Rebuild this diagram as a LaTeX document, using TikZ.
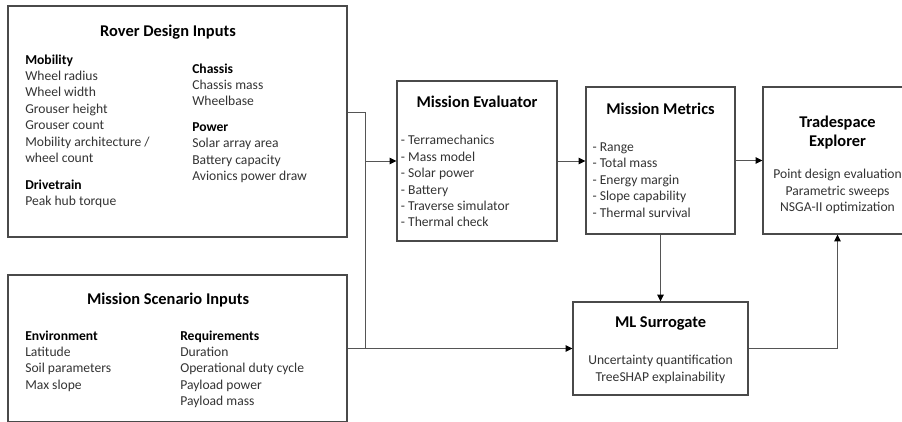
\documentclass[tikz,border=0pt]{standalone}
\usepackage{fontspec}
\setmainfont{Carlito}
\usetikzlibrary{arrows.meta,fit}

\definecolor{framegray}{HTML}{4A4A4A}
\definecolor{wiregray}{HTML}{555555}
\definecolor{textgray}{HTML}{333333}
\newcommand{\grp}[1]{\textcolor{black}{\textbf{#1}}}

\tikzset{
    box/.style={draw=framegray, line width=0.8pt, inner sep=0pt},
    heading/.style={font=\fontsize{12.3}{14.8}\selectfont\bfseries, anchor=base},
    items/.style={font=\fontsize{10.2}{12.3}\selectfont, text=textgray, align=left, anchor=north west, inner sep=0pt},
    centred/.style={items, align=center, anchor=north},
    wire/.style={draw=wiregray, line width=0.75pt},
    flow/.style={wire, -{Triangle[length=5.2pt, width=5pt, color=black]}},
}

\begin{document}
\begin{tikzpicture}[x=0.75pt, y=-0.75pt] % pixel grid, y grows downward
    \useasboundingbox (0,0) rectangle (902,421);
    \clip (0,0) rectangle (902,421);

    % input boxes (left)
    \node[box, fit={(8,6) (347,237)}] (rover) {};
    \node[box, fit={(8,275) (347,422)}] (scenario) {};
    % processing chain
    \node[box, fit={(397,81) (557,241)}] (evaluator) {};
    \node[box, fit={(586,87) (735,234)}] (metrics) {};
    \node[box, fit={(763,87) (912,234)}] (explorer) {};
    \node[box, fit={(573,302) (748,395)}] (surrogate) {};

    % titles
    \node[heading] (rover title) at (168,36.3) {Rover Design Inputs};
    \node[heading] (scenario title) at (168,304.3) {Mission Scenario Inputs};
    \node[heading] (evaluator title) at (477,107) {Mission Evaluator};
    \node[heading] (metrics title) at (660.5,114.6) {Mission Metrics};
    \node[heading, align=center, anchor=north] (explorer title) at (837.5,111) {Tradespace\\Explorer};
    \node[heading] (surrogate title) at (660.5,327) {ML Surrogate};

    % rover parameter groups
    \node[items] (mobility) at (25,54.2) {\grp{Mobility}\\Wheel radius\\Wheel width\\Grouser height\\Grouser count\\Mobility architecture /\\wheel count};
    \node[items] (drivetrain) at (25,179.2) {\grp{Drivetrain}\\Peak hub torque};
    \node[items] (chassis) at (192,63.2) {\grp{Chassis}\\Chassis mass\\Wheelbase};
    \node[items] (power) at (192,122.2) {\grp{Power}\\Solar array area\\Battery capacity\\Avionics power draw};

    % scenario parameter groups
    \node[items] (environment) at (25,330.2) {\grp{Environment}\\Latitude\\Soil parameters\\Max slope};
    \node[items] (requirements) at (180,330.2) {\grp{Requirements}\\Duration\\Operational duty cycle\\Payload power\\Payload mass};

    % box contents
    \node[items] (evaluator items) at (400.7,135.2) {- Terramechanics\\- Mass model\\- Solar power\\- Battery\\- Traverse simulator\\- Thermal check};
    \node[items] (metrics items) at (592.3,142.5) {- Range\\- Total mass\\- Energy margin\\- Slope capability\\- Thermal survival};
    \node[centred] (explorer items) at (837.5,169.2) {Point design evaluation\\Parametric sweeps\\NSGA-II optimization};
    \node[centred] (surrogate items) at (660.5,355.2) {Uncertainty quantification\\TreeSHAP explainability};

    % connectors
    \coordinate (join) at (365,348.5);
    \draw[wire] ([yshift=7.1pt]rover.east) -| (join);
    \draw[flow] (join |- evaluator.west) -- (evaluator.west);
    \draw[flow] (scenario.east) -- (surrogate.west);
    \draw[flow] (evaluator.east) -- (evaluator.east -| metrics.west);
    \draw[flow] (metrics.east) -- (metrics.east -| explorer.west);
    \draw[flow] (metrics.south) -- (surrogate.north);
    \draw[flow] (surrogate.east) -| (explorer.south);
\end{tikzpicture}
\end{document}
